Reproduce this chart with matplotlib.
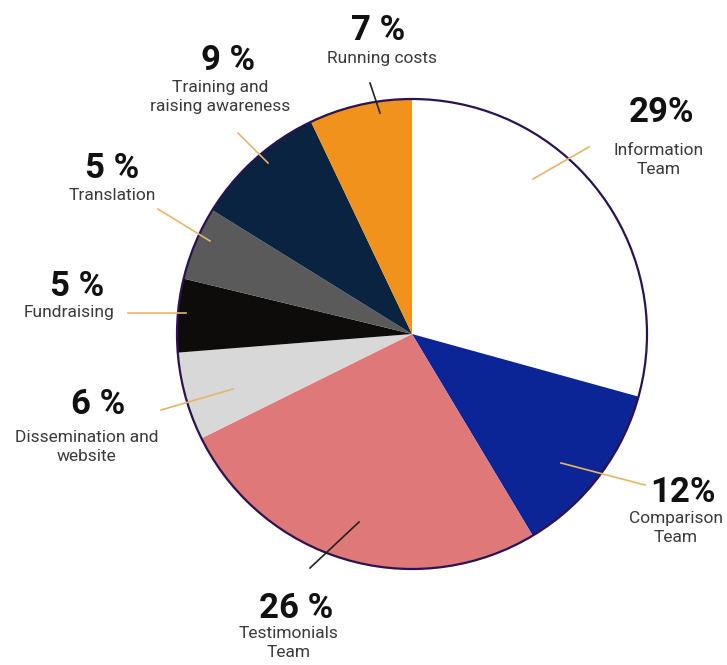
import matplotlib
matplotlib.use("Agg")
import matplotlib.pyplot as plt
from matplotlib.patches import Circle

# slice data, clockwise from the top
categories = ["Information\nTeam", "Comparison\nTeam", "Testimonials\nTeam",
              "Dissemination and\nwebsite", "Fundraising", "Translation",
              "Training and\nraising awareness", "Running costs"]
shares = [29, 12, 26, 6, 5, 5, 9, 7]
pct_labels = ["29%", "12%", "26 %", "6 %", "5 %", "5 %", "9 %", "7 %"]
colors = ["#ffffff", "#0b2596", "#df7878", "#d8d8d8", "#0e0b0b", "#5a5a5a",
          "#0a2340", "#f0921b"]

W, H = 727, 665
fig = plt.figure(figsize=(W / 100, H / 100), dpi=100)
ax = fig.add_axes([0, 0, 1, 1])

cx, cy, R = 412, H - 334, 235
ax.pie(shares, colors=colors, startangle=90, counterclock=False,
       center=(cx, cy), radius=R, wedgeprops=dict(linewidth=0))
ax.add_patch(Circle((cx, cy), R, fill=False, edgecolor="#2b1252", lw=1.6, zorder=5))
ax.set_xlim(0, W)
ax.set_ylim(0, H)
ax.set_aspect("equal")
ax.axis("off")

# label layout in pixel coords (from top-left): pct pos, text pos, leader line
pct_pos = [(662, 113), (683, 492), (296, 608), (98, 404), (77, 286),
           (112, 168), (228, 60), (378, 30)]
txt_pos = [(659, 160), (676, 528), (289, 643), (87, 447), (69, 313),
           (112, 196), (220, 97), (382, 58)]
leaders = [((533, 179), (589, 147)), ((561, 463), (645, 485)),
           ((359, 522), (310, 568)), ((233, 389), (161, 410)),
           ((186, 313), (128, 313)), ((210, 241), (158, 209)),
           ((268, 163), (238, 133)), ((380, 113), (370, 83))]
leader_colors = ["#e8b565", "#e8b565", "#222222", "#e8b565", "#e8b565",
                 "#e8b565", "#e8b565", "#222222"]

for i in range(len(shares)):
    px, py = pct_pos[i]
    ax.text(px, H - py, pct_labels[i], ha="center", va="center",
            fontsize=25, fontweight="bold", family="Roboto", color="#111111")
    tx, ty = txt_pos[i]
    ax.text(tx, H - ty, categories[i], ha="center", va="center",
            fontsize=12.5, family="Roboto", color="#3a3a3a",
            linespacing=1.35)
    (x0, y0), (x1, y1) = leaders[i]
    ax.plot([x0, x1], [H - y0, H - y1], color=leader_colors[i], lw=1.2, zorder=6)

fig.savefig("out.png", dpi=100)
